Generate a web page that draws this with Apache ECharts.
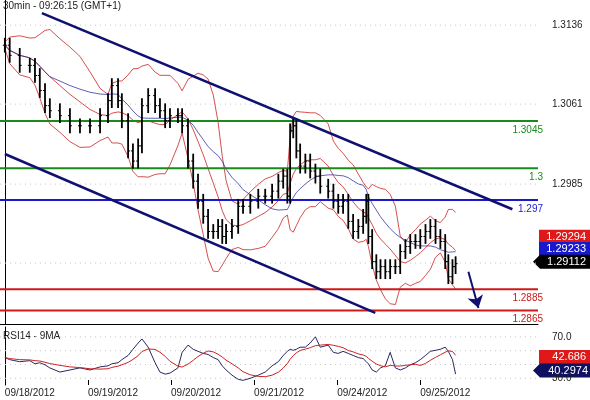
<!DOCTYPE html><html><head><meta charset="utf-8"><script src="https://cdn.jsdelivr.net/npm/echarts@6/dist/echarts.min.js"></script>
<style>body{margin:0}#c{width:590px;height:400px}</style></head><body><div id="c"></div><script>
const hours=[0,1.4,4.3,7.2,8.7,10.1,11.6,13.0,15.9,18.8,21.7,24.6,27.5,29.8,30.9,32.7,33.8,35.6,37.0,38.5,39.6,41.4,43.4,44.8,46.3,47.7,50.0,51.2,52.9,54.4,55.8,57.3,58.7,60.2,61.6,62.8,63.9,65.6,67.4,68.8,70.9,73.2,75.2,77.2,79.0,80.4,81.6,82.4,83.3,84.2,85.3,86.8,88.2,89.7,91.1,93.4,94.9,96.3,97.7,99.2,100.6,102.1,103.5,104.4,105.0,106.1,107.3,108.5,109.9,111.3,112.8,114.2,115.7,117.1,118.6,120.0,121.5,122.9,124.4,125.8,127.2,128.1,129.3,130.2];
const closes=[1.31169,1.31073,1.30978,1.30978,1.30882,1.30739,1.30595,1.30547,1.30500,1.30404,1.30404,1.30404,1.30500,1.30643,1.30786,1.30643,1.30452,1.30165,1.30069,1.30213,1.30595,1.30691,1.30595,1.30547,1.30452,1.30500,1.30500,1.30404,1.30069,1.29878,1.29687,1.29544,1.29400,1.29400,1.29448,1.29352,1.29400,1.29448,1.29639,1.29639,1.29687,1.29735,1.29735,1.29783,1.29878,1.29926,1.29735,1.30356,1.30404,1.30165,1.30021,1.30069,1.29974,1.29926,1.29830,1.29783,1.29687,1.29639,1.29687,1.29496,1.29400,1.29448,1.29544,1.29687,1.29352,1.29113,1.29018,1.29066,1.29018,1.29066,1.29066,1.29209,1.29257,1.29305,1.29305,1.29352,1.29400,1.29448,1.29352,1.29305,1.29113,1.28970,1.29066,1.29094];
const rsi=[50,48,46,47,44,45,43,40,36,38,40,38,41,42,44,45,48,52,58,64,68,60,45,36,34,35,40,55,62,58,56,54,53,50,48,42,38,33,29,28,30,33,36,42,46,52,56,58,57,58,60,60,64,70,60,62,55,54,56,54,52,50,49,46,44,38,36,40,42,55,40,38,40,43,45,48,52,56,57,58,60,56,48,34];
const dateLabels=['09/18/2012','09/19/2012','09/20/2012','09/21/2012','09/24/2012','09/25/2012'];
const dateHours=[0,24,48,72,96,120];
const priceTicks=[1.3136,1.3061,1.2985];
const gridTicks=[1.3136,1.3061,1.2985,1.2910];
const rsiGrid=[30,43.3,56.6,70];
const levels=[{v:1.3045,c:'#1a8a1a',t:'1.3045'},{v:1.3,c:'#1a8a1a',t:'1.3'},{v:1.297,c:'#1a1acc',t:'1.297'},{v:1.2885,c:'#cc1a1a',t:'1.2885'},{v:1.2865,c:'#cc1a1a',t:'1.2865'}];
const channelUp=[[10.7,1.31475],[146.6,1.29611]];
const channelLow=[[0,1.30136],[107.0,1.28626]];
const arrow=[[133.9,1.29018],[136.8,1.28673]];
const lastVals={red:1.29294,blue:1.29233,black:1.29112,rsiMa:'42.686',rsi:'40.2974'};

const X0=-1.4,X1=154;
const ohlc=closes.map((c,i)=>{const o=i?closes[i-1]:c;return [hours[i],o,c,Math.min(o,c)-0.0007,Math.max(o,c)+0.0007];});
function sma(a,p){return a.map((_,i)=>{const s=a.slice(Math.max(0,i-p+1),i+1);return s.reduce((x,y)=>x+y,0)/s.length;});}
function sd(a,p,m){return a.map((_,i)=>{const s=a.slice(Math.max(0,i-p+1),i+1);return Math.sqrt(s.reduce((x,y)=>x+(y-m[i])**2,0)/s.length);});}
const mid=sma(closes,8),dev=sd(closes,8,mid),ma2=sma(closes,16);
const pair=(a)=>a.map((v,i)=>[hours[i],v]);
const upB=closes.map((_,i)=>[hours[i],mid[i]+2*dev[i]+0.0003]);
const loB=closes.map((_,i)=>[hours[i],mid[i]-2*dev[i]-0.0003]);
const rsiMa=sma(rsi,6);
const F='Arial, "Liberation Sans", sans-serif';
const ch=echarts.init(document.getElementById('c'));
const line=(d,c,w,extra)=>Object.assign({type:'line',data:d,showSymbol:false,silent:true,lineStyle:{color:c,width:w},z:3},extra||{});
const hline=(v,c,w,type,extra)=>line([[X0,v],[X1,v]],c,w,Object.assign({lineStyle:{color:c,width:w,type:type}},extra||{}));
ch.setOption({animation:false,
grid:[{left:0,right:52,top:0,height:324},{left:0,right:52,top:327,height:58}],
xAxis:[{type:'value',min:X0,max:X1,gridIndex:0,axisLine:{show:true,lineStyle:{color:'#000'}},axisTick:{show:false},axisLabel:{show:false},splitLine:{show:false}},
{type:'value',min:X0,max:X1,gridIndex:1,axisLine:{show:false},axisTick:{show:true,customValues:dateHours,length:-5,lineStyle:{color:'#000'}},axisLabel:{customValues:dateHours,formatter:v=>dateLabels[dateHours.indexOf(v)],fontFamily:F,fontSize:10,color:'#222',align:'left',margin:3},splitLine:{show:false}}],
yAxis:[{type:'value',min:1.28521,max:1.31599,position:'right',gridIndex:0,axisLine:{show:true,lineStyle:{color:'#000'}},axisTick:{show:false},splitLine:{show:false},axisLabel:{customValues:priceTicks,fontFamily:F,fontSize:10,color:'#222',margin:14,formatter:v=>v.toFixed(4)}},
{type:'value',min:23.5,max:79.5,position:'right',gridIndex:1,axisLine:{show:true,lineStyle:{color:'#000'}},axisTick:{show:false},splitLine:{show:false},axisLabel:{customValues:[30,70],fontFamily:F,fontSize:10,color:'#222',margin:14,formatter:v=>v.toFixed(1)}}],
series:[
...gridTicks.map(v=>hline(v,'#c8c8c8',1,[1,4],{z:1})),
...levels.map(l=>hline(l.v,l.c,2,'solid',{z:4,endLabel:{show:true,formatter:l.t,color:l.c,fontFamily:F,fontSize:10,offset:[-3,9],align:'right'}})),
line(upB,'#cc2222',0.8),line(loB,'#cc2222',0.8),line(pair(mid),'#cc2222',0.8),line(pair(ma2),'#1a1a99',0.7),
{type:'custom',xAxisIndex:0,yAxisIndex:0,z:5,data:ohlc,renderItem:(p,api)=>{const x=api.value(0);const h=api.coord([x,api.value(4)]),l=api.coord([x,api.value(3)]),o=api.coord([x,api.value(1)]),c=api.coord([x,api.value(2)]);return {type:'group',children:[{type:'line',shape:{x1:h[0],y1:h[1],x2:l[0],y2:l[1]},style:{stroke:'#000',lineWidth:1.8}},{type:'line',shape:{x1:o[0]-2,y1:o[1],x2:o[0],y2:o[1]},style:{stroke:'#000',lineWidth:1}},{type:'line',shape:{x1:c[0],y1:c[1],x2:c[0]+2,y2:c[1]},style:{stroke:'#000',lineWidth:1}}]};}},
line(channelUp,'#101070',2.5,{z:6}),line(channelLow,'#101070',2.5,{z:6}),
{type:'lines',coordinateSystem:'cartesian2d',xAxisIndex:0,yAxisIndex:0,z:7,symbol:['none','arrow'],symbolSize:12,lineStyle:{color:'#101070',width:2,opacity:1},data:[{coords:arrow}]},
...rsiGrid.map(v=>hline(v,'#c8c8c8',1,[1,4],{z:1,xAxisIndex:1,yAxisIndex:1})),
line(pair(rsi),'#101050',0.9,{xAxisIndex:1,yAxisIndex:1}),
line(pair(rsiMa),'#cc2222',1,{xAxisIndex:1,yAxisIndex:1})
]});
const box=(y,txt,bg,fg)=>({type:'group',children:[{type:'rect',shape:{x:539,y:y-7,width:51,height:14},style:{fill:bg}},{type:'text',x:586,y:y,style:{text:txt,font:'11px '+F,fill:fg,align:'right',verticalAlign:'middle'}}]});
const py=v=>ch.convertToPixel({yAxisIndex:0},v), ry=v=>ch.convertToPixel({yAxisIndex:1},v);
const b=py(lastVals.black), r=ry(40.3);
ch.setOption({graphic:[
{type:'text',left:3,top:1,style:{text:'30min - 09:26:15 (GMT+1)',font:'10px '+F,fill:'#222'}},
{type:'text',left:3,top:331,style:{text:'RSI14 - 9MA',font:'10px '+F,fill:'#222'}},
box(py(lastVals.red)-6,lastVals.red.toFixed(5),'#e01818','#fff'),
box(py(lastVals.blue),lastVals.blue.toFixed(5),'#1818cc','#fff'),
{type:'group',children:[{type:'polygon',shape:{points:[[533,b],[540,b-7],[590,b-7],[590,b+7],[540,b+7]]},style:{fill:'#000'}},{type:'text',x:586,y:b,style:{text:lastVals.black.toFixed(5),font:'11px '+F,fill:'#fff',align:'right',verticalAlign:'middle'}}]},
box(ry(42.7)-8,lastVals.rsiMa,'#e01818','#fff'),
{type:'group',children:[{type:'polygon',shape:{points:[[533,r+3],[540,r-4],[590,r-4],[590,r+10],[540,r+10]]},style:{fill:'#101060'}},{type:'text',x:588,y:r+3,style:{text:lastVals.rsi,font:'11px '+F,fill:'#fff',align:'right',verticalAlign:'middle'}}]}
]},{replaceMerge:['graphic']});
</script></body></html>
